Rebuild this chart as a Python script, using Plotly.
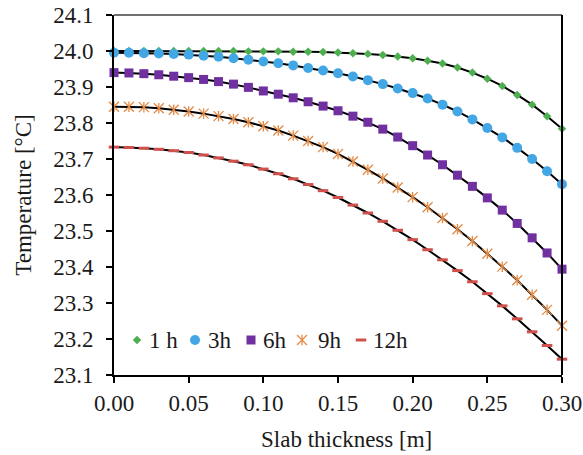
import plotly.graph_objects as go

# Position through the slab [m]
thickness = [0.00, 0.01, 0.02, 0.03, 0.04, 0.05, 0.06, 0.07, 0.08, 0.09,
             0.10, 0.11, 0.12, 0.13, 0.14, 0.15, 0.16, 0.17, 0.18, 0.19,
             0.20, 0.21, 0.22, 0.23, 0.24, 0.25, 0.26, 0.27, 0.28, 0.29, 0.30]

# Temperature profiles [°C] after each elapsed time
t_1h = [24.000, 24.000, 24.000, 24.000, 24.000, 24.000, 24.000, 24.000, 24.000, 23.999,
        23.999, 23.999, 23.998, 23.998, 23.997, 23.996, 23.994, 23.992, 23.989, 23.985,
        23.980, 23.973, 23.965, 23.954, 23.940, 23.923, 23.903, 23.878, 23.851, 23.819, 23.784]
t_3h = [23.995, 23.995, 23.994, 23.993, 23.992, 23.990, 23.987, 23.984, 23.980, 23.976,
        23.971, 23.966, 23.960, 23.953, 23.946, 23.938, 23.929, 23.919, 23.908, 23.896,
        23.883, 23.868, 23.851, 23.832, 23.810, 23.786, 23.760, 23.731, 23.700, 23.666, 23.630]
t_6h = [23.940, 23.939, 23.937, 23.934, 23.930, 23.926, 23.921, 23.915, 23.908, 23.899,
        23.889, 23.880, 23.870, 23.859, 23.847, 23.834, 23.819, 23.802, 23.783, 23.761,
        23.737, 23.711, 23.684, 23.655, 23.624, 23.592, 23.558, 23.521, 23.481, 23.439, 23.394]
t_9h = [23.845, 23.845, 23.844, 23.841, 23.837, 23.832, 23.826, 23.819, 23.811, 23.802,
        23.791, 23.779, 23.765, 23.750, 23.733, 23.714, 23.693, 23.670, 23.646, 23.621,
        23.594, 23.566, 23.536, 23.505, 23.472, 23.437, 23.401, 23.363, 23.323, 23.281, 23.237]
t_12h = [23.733, 23.732, 23.730, 23.727, 23.723, 23.718, 23.711, 23.703, 23.694, 23.684,
         23.672, 23.659, 23.645, 23.629, 23.612, 23.593, 23.572, 23.550, 23.527, 23.502,
         23.476, 23.448, 23.420, 23.390, 23.359, 23.326, 23.292, 23.256, 23.220, 23.182, 23.144]

series_names = ["1 h", "3h", "6h", "9h", "12h"]
series_values = [t_1h, t_3h, t_6h, t_9h, t_12h]

x_ticks = [0.00, 0.05, 0.10, 0.15, 0.20, 0.25, 0.30]
y_ticks = [23.1, 23.2, 23.3, 23.4, 23.5, 23.6, 23.7, 23.8, 23.9, 24.0, 24.1]

ORANGE = "#E38A45"
RED = "#D0504C"

# Each series' marker is one or more stacked plotly symbols
# (the star for 9h is an "x" crossed by a vertical bar).
marker_styles = [
    [dict(symbol="diamond", size=6.5, color="#4DAF50")],
    [dict(symbol="circle", size=10, color="#43A7E6")],
    [dict(symbol="square", size=9, color="#7030A0")],
    [dict(symbol="x-thin-open", size=10, color=ORANGE, line=dict(color=ORANGE, width=1.3)),
     dict(symbol="line-ns-open", size=7.5, color=ORANGE, line=dict(color=ORANGE, width=1.3))],
    [dict(symbol="line-ew-open", size=7.5, color=RED, line=dict(color=RED, width=3))],
]

# In-plot key: pixel offsets from the lower-left corner of the plotting area
key_symbol_x = [23, 81, 137, 188, 247]
key_text_x = [33, 92, 147, 202, 257]
key_y = 35
PLOT_W, PLOT_H = 448, 360

FONT = "Times New Roman, Liberation Serif, DejaVu Serif, serif"
TEXT_COLOR = "#1a1a1a"

fig = go.Figure()

# model curves (black) under the measured markers
for vals in series_values:
    fig.add_trace(go.Scatter(
        x=thickness, y=vals, mode="lines",
        line=dict(color="black", width=2),
        showlegend=False, hoverinfo="skip", cliponaxis=False,
    ))

for name, vals, parts in zip(series_names, series_values, marker_styles):
    for mk in parts:
        fig.add_trace(go.Scatter(
            x=thickness, y=vals, mode="markers", name=name,
            marker=mk, cliponaxis=False, showlegend=False,
        ))

# key symbols on a pixel-scaled overlay axis pair
annotations = []
for name, parts, sx, tx in zip(series_names, marker_styles, key_symbol_x, key_text_x):
    for mk in parts:
        fig.add_trace(go.Scatter(
            x=[sx], y=[key_y], mode="markers", marker=mk,
            xaxis="x2", yaxis="y2", showlegend=False, hoverinfo="skip", cliponaxis=False,
        ))
    annotations.append(dict(
        x=tx, y=key_y, xref="x2", yref="y2", text=name, showarrow=False,
        xanchor="left", yanchor="middle",
        font=dict(family=FONT, size=23, color=TEXT_COLOR),
    ))

# x-axis title, set slightly right of the plot centre
annotations.append(dict(
    x=0.52, y=-0.18, xref="paper", yref="paper", text="Slab thickness [m]",
    showarrow=False, xanchor="center", yanchor="middle",
    font=dict(family=FONT, size=23, color=TEXT_COLOR),
))

fig.update_layout(
    width=583, height=455,
    margin=dict(l=114, r=21, t=15, b=80),
    paper_bgcolor="white", plot_bgcolor="white",
    font=dict(family=FONT, size=23, color=TEXT_COLOR),
    showlegend=False,
    xaxis=dict(
        range=[0, 0.30], tickvals=x_ticks, tickformat=".2f",
        showgrid=False, zeroline=False, automargin=False,
        showline=True, linecolor="black", linewidth=2,
        ticks="outside", ticklen=6, tickwidth=1.5, tickcolor="black",
        tickfont=dict(family=FONT, size=23),
    ),
    yaxis=dict(
        range=[23.1, 24.1], tickvals=y_ticks, tickformat=".1f",
        showgrid=False, zeroline=False, automargin=False,
        showline=True, linecolor="black", linewidth=2,
        ticks="outside", ticklen=6, tickwidth=1.5, tickcolor="black",
        ticklabelstandoff=8,
        title=dict(text="Temperature [°C]", font=dict(family=FONT, size=23)),
        tickfont=dict(family=FONT, size=23),
    ),
    xaxis2=dict(range=[0, PLOT_W], overlaying="x", visible=False, fixedrange=True),
    yaxis2=dict(range=[0, PLOT_H], overlaying="y", visible=False, fixedrange=True),
    annotations=annotations,
    shapes=[
        dict(type="line", xref="paper", yref="paper", x0=0, x1=1, y0=1, y1=1,
             line=dict(color="#404040", width=1.5)),
        dict(type="line", xref="paper", yref="paper", x0=1, x1=1, y0=0, y1=1,
             line=dict(color="black", width=2)),
    ],
)

fig.write_html("out.html")
